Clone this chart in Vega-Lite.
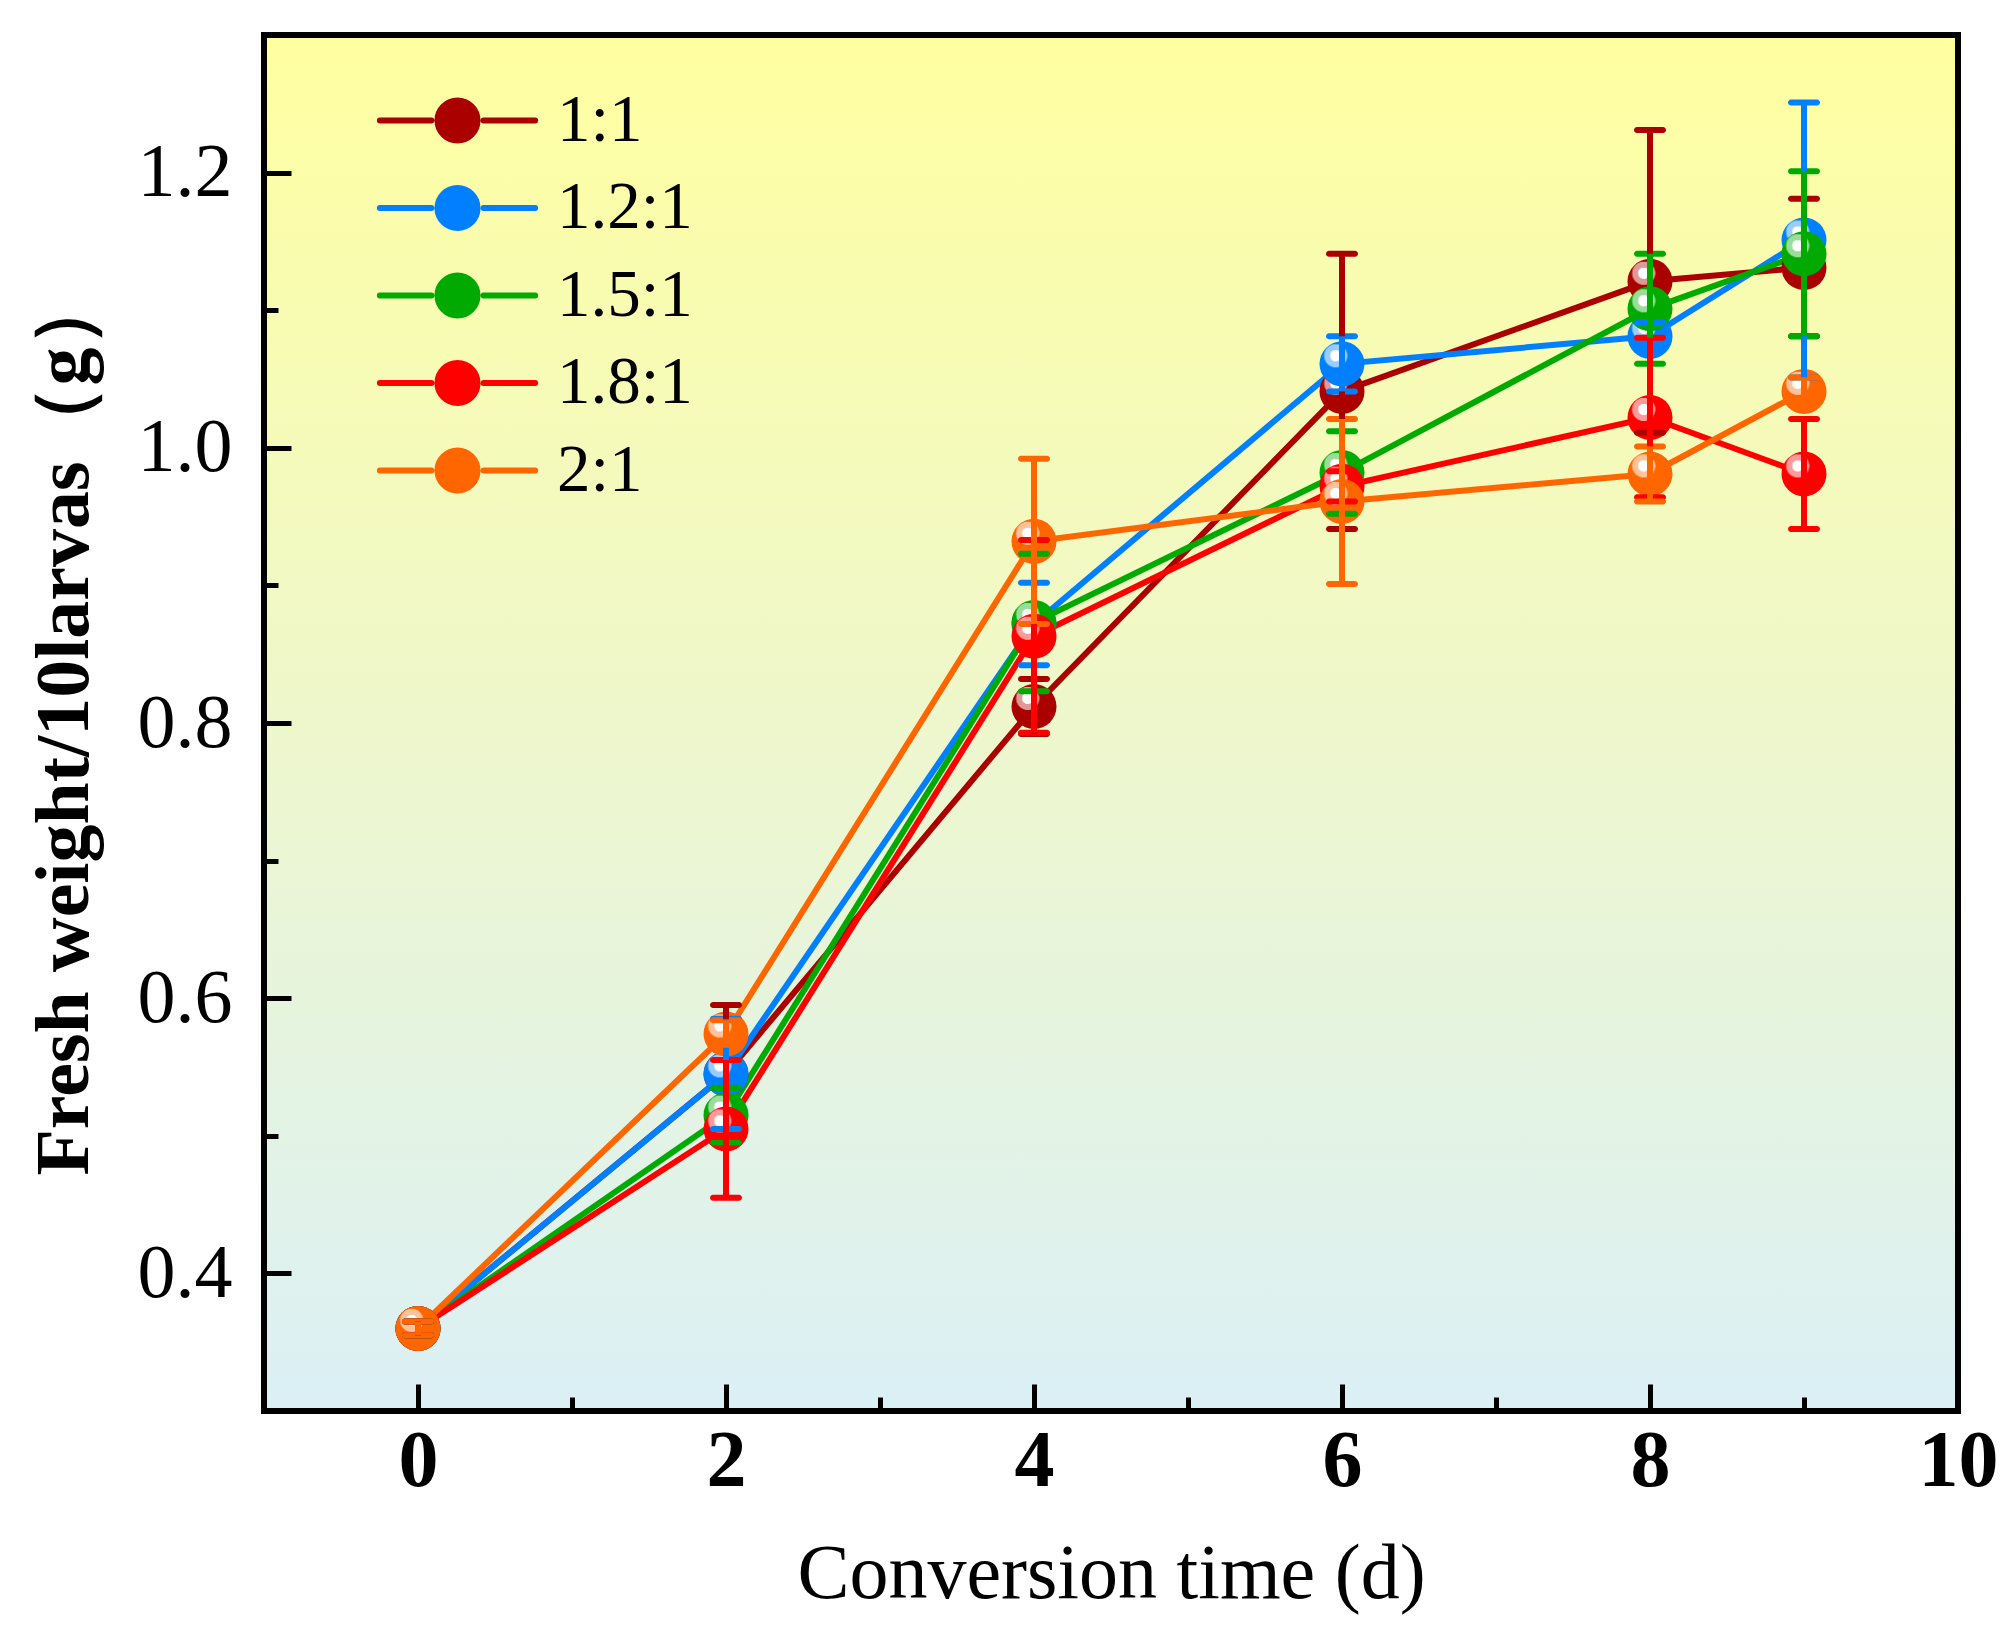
{
  "$schema": "https://vega.github.io/schema/vega-lite/v6.json",
  "width": 1694,
  "height": 1376,
  "autosize": {"type": "none"},
  "padding": {"left": 264, "top": 35, "right": 58, "bottom": 230},
  "background": "white",
  "view": {
    "stroke": "black",
    "strokeWidth": 6,
    "fill": {
      "gradient": "linear", "x1": 0, "y1": 0, "x2": 0, "y2": 1,
      "stops": [
        {"offset": 0, "color": "#FFFFA0"},
        {"offset": 0.5, "color": "#EEF7CC"},
        {"offset": 1, "color": "#DBF0F6"}
      ]
    }
  },
  "data": {
    "values": [
      {"series": "1:1", "x": 0, "y": 0.36, "lo": 0.355, "hi": 0.365},
      {"series": "1:1", "x": 2, "y": 0.545, "lo": 0.495, "hi": 0.595},
      {"series": "1:1", "x": 4, "y": 0.812, "lo": 0.792, "hi": 0.832},
      {"series": "1:1", "x": 6, "y": 1.041, "lo": 0.941, "hi": 1.141},
      {"series": "1:1", "x": 8, "y": 1.121, "lo": 1.011, "hi": 1.231},
      {"series": "1:1", "x": 9, "y": 1.131, "lo": 1.081, "hi": 1.181},
      {"series": "1.2:1", "x": 0, "y": 0.36, "lo": 0.355, "hi": 0.365},
      {"series": "1.2:1", "x": 2, "y": 0.545, "lo": 0.505, "hi": 0.585},
      {"series": "1.2:1", "x": 4, "y": 0.872, "lo": 0.842, "hi": 0.902},
      {"series": "1.2:1", "x": 6, "y": 1.061, "lo": 1.041, "hi": 1.081},
      {"series": "1.2:1", "x": 8, "y": 1.081, "lo": 1.071, "hi": 1.091},
      {"series": "1.2:1", "x": 9, "y": 1.151, "lo": 1.051, "hi": 1.251},
      {"series": "1.5:1", "x": 0, "y": 0.36, "lo": 0.355, "hi": 0.365},
      {"series": "1.5:1", "x": 2, "y": 0.515, "lo": 0.495, "hi": 0.535},
      {"series": "1.5:1", "x": 4, "y": 0.873, "lo": 0.823, "hi": 0.923},
      {"series": "1.5:1", "x": 6, "y": 0.982, "lo": 0.952, "hi": 1.012},
      {"series": "1.5:1", "x": 8, "y": 1.101, "lo": 1.061, "hi": 1.141},
      {"series": "1.5:1", "x": 9, "y": 1.141, "lo": 1.081, "hi": 1.201},
      {"series": "1.8:1", "x": 0, "y": 0.36, "lo": 0.355, "hi": 0.365},
      {"series": "1.8:1", "x": 2, "y": 0.505, "lo": 0.455, "hi": 0.555},
      {"series": "1.8:1", "x": 4, "y": 0.863, "lo": 0.793, "hi": 0.933},
      {"series": "1.8:1", "x": 6, "y": 0.972, "lo": 0.961, "hi": 0.983},
      {"series": "1.8:1", "x": 8, "y": 1.022, "lo": 0.964, "hi": 1.08},
      {"series": "1.8:1", "x": 9, "y": 0.981, "lo": 0.941, "hi": 1.021},
      {"series": "2:1", "x": 0, "y": 0.36, "lo": 0.355, "hi": 0.365},
      {"series": "2:1", "x": 2, "y": 0.574, "lo": 0.564, "hi": 0.584},
      {"series": "2:1", "x": 4, "y": 0.932, "lo": 0.872, "hi": 0.992},
      {"series": "2:1", "x": 6, "y": 0.961, "lo": 0.901, "hi": 1.021},
      {"series": "2:1", "x": 8, "y": 0.981, "lo": 0.961, "hi": 1.001},
      {"series": "2:1", "x": 9, "y": 1.041, "lo": 1.031, "hi": 1.051}
    ]
  },
  "encoding": {
    "x": {
      "field": "x",
      "type": "quantitative",
      "title": "Conversion time (d)",
      "scale": {"domain": [-1, 10], "nice": false, "zero": false},
      "axis": {
        "values": [0, 1, 2, 3, 4, 5, 6, 7, 8, 9, 10],
        "labelExpr": "datum.value % 2 === 0 ? datum.label : ''",
        "grid": false,
        "domain": false,
        "ticks": true,
        "tickSize": {"condition": {"test": "datum.value % 2 === 0", "value": -27}, "value": -14},
        "tickWidth": 5,
        "tickColor": "black",
        "labelFont": "Liberation Serif",
        "labelFontWeight": "bold",
        "labelFontSize": 80,
        "labelColor": "black",
        "labelPadding": 38,
        "labelFlush": false,
        "titleFont": "Liberation Serif",
        "titleFontWeight": "normal",
        "titleFontSize": 78,
        "titleColor": "black",
        "titlePadding": 34
      }
    },
    "y": {
      "field": "y",
      "type": "quantitative",
      "title": "Fresh weight/10larvas（g）",
      "scale": {"domain": [0.3, 1.3], "nice": false, "zero": false},
      "axis": {
        "values": [0.4, 0.5, 0.6, 0.7, 0.8, 0.9, 1.0, 1.1, 1.2],
        "labelExpr": "round(datum.value * 10) % 2 === 0 ? format(datum.value, '.1f') : ''",
        "grid": false,
        "domain": false,
        "tickSize": {"condition": {"test": "round(datum.value * 10) % 2 === 0", "value": -27}, "value": -14},
        "tickWidth": 5,
        "tickColor": "black",
        "labelFont": "Liberation Serif",
        "labelFontSize": 76,
        "labelColor": "black",
        "labelPadding": 59,
        "labelFlush": false,
        "titleFont": "Liberation Serif",
        "titleFontWeight": "bold",
        "titleFontSize": 76,
        "titleColor": "black",
        "titlePadding": 34
      }
    }
  },
  "layer": [
    {
      "mark": {"type": "line", "strokeWidth": 6, "strokeCap": "round", "opacity": 1},
      "encoding": {
        "color": {
          "field": "series",
          "type": "nominal",
          "scale": {
            "domain": ["1:1", "1.2:1", "1.5:1", "1.8:1", "2:1"],
            "range": ["#AA0000", "#0080FF", "#00AA00", "#FF0000", "#FF6600"]
          },
          "legend": {
            "title": null,
            "orient": "none",
            "legendX": 160,
            "legendY": 52,
            "symbolType": "M-3.45,0H-1.16M1.16,0H3.45M0.89,0A0.89,0.89,0,1,1,-0.89,0A0.89,0.89,0,1,1,0.89,0Z",
            "symbolSize": 2025,
            "symbolStrokeWidth": 6,
            "symbolOpacity": 1,
            "labelFont": "Liberation Serif",
            "labelFontSize": 67,
            "labelColor": "black",
            "labelOffset": 66,
            "rowPadding": 19.5,
            "labelLimit": 400,
            "encode": {
              "symbols": {
                "update": {
                  "fill": {"scale": "color", "field": "value"},
                  "stroke": {"scale": "color", "field": "value"},
                  "strokeCap": {"value": "round"}
                }
              }
            }
          }
        }
      }
    },
    {
      "transform": [{"filter": "datum.series === '1:1'"}],
      "mark": {
        "type": "circle", "size": 2025, "opacity": 1,
        "fill": {"gradient": "radial", "x1": 0.36, "y1": 0.32, "r1": 0, "x2": 0.36, "y2": 0.32, "r2": 0.5,
          "stops": [{"offset": 0, "color": "#FFFFFF"}, {"offset": 0.24, "color": "#FFFFFF"}, {"offset": 0.26, "color": "#DC9A9A"}, {"offset": 0.5, "color": "#DC9A9A"}, {"offset": 0.53, "color": "#AA0000"}, {"offset": 1, "color": "#AA0000"}]}
      }
    },
    {
      "transform": [{"filter": "datum.series === '1.2:1'"}],
      "mark": {
        "type": "circle", "size": 2025, "opacity": 1,
        "fill": {"gradient": "radial", "x1": 0.36, "y1": 0.32, "r1": 0, "x2": 0.36, "y2": 0.32, "r2": 0.5,
          "stops": [{"offset": 0, "color": "#FFFFFF"}, {"offset": 0.24, "color": "#FFFFFF"}, {"offset": 0.26, "color": "#9ACDFF"}, {"offset": 0.5, "color": "#9ACDFF"}, {"offset": 0.53, "color": "#0080FF"}, {"offset": 1, "color": "#0080FF"}]}
      }
    },
    {
      "transform": [{"filter": "datum.series === '1.5:1'"}],
      "mark": {
        "type": "circle", "size": 2025, "opacity": 1,
        "fill": {"gradient": "radial", "x1": 0.36, "y1": 0.32, "r1": 0, "x2": 0.36, "y2": 0.32, "r2": 0.5,
          "stops": [{"offset": 0, "color": "#FFFFFF"}, {"offset": 0.24, "color": "#FFFFFF"}, {"offset": 0.26, "color": "#9ADD9A"}, {"offset": 0.5, "color": "#9ADD9A"}, {"offset": 0.53, "color": "#00AA00"}, {"offset": 1, "color": "#00AA00"}]}
      }
    },
    {
      "transform": [{"filter": "datum.series === '1.8:1'"}],
      "mark": {
        "type": "circle", "size": 2025, "opacity": 1,
        "fill": {"gradient": "radial", "x1": 0.36, "y1": 0.32, "r1": 0, "x2": 0.36, "y2": 0.32, "r2": 0.5,
          "stops": [{"offset": 0, "color": "#FFFFFF"}, {"offset": 0.24, "color": "#FFFFFF"}, {"offset": 0.26, "color": "#FF9A9A"}, {"offset": 0.5, "color": "#FF9A9A"}, {"offset": 0.53, "color": "#FF0000"}, {"offset": 1, "color": "#FF0000"}]}
      }
    },
    {
      "transform": [{"filter": "datum.series === '2:1'"}],
      "mark": {
        "type": "circle", "size": 2025, "opacity": 1,
        "fill": {"gradient": "radial", "x1": 0.36, "y1": 0.32, "r1": 0, "x2": 0.36, "y2": 0.32, "r2": 0.5,
          "stops": [{"offset": 0, "color": "#FFFFFF"}, {"offset": 0.24, "color": "#FFFFFF"}, {"offset": 0.26, "color": "#FFC29A"}, {"offset": 0.5, "color": "#FFC29A"}, {"offset": 0.53, "color": "#FF6600"}, {"offset": 1, "color": "#FF6600"}]}
      }
    },
    {
      "mark": {
        "type": "errorbar",
        "rule": {"strokeWidth": 6, "opacity": 1},
        "ticks": {"thickness": 6, "size": 32, "opacity": 1, "cornerRadius": 3}
      },
      "encoding": {
        "y": {"field": "lo", "type": "quantitative"},
        "y2": {"field": "hi"},
        "color": {"field": "series", "type": "nominal"}
      }
    }
  ],
  "config": {
    "font": "Liberation Serif"
  }
}
